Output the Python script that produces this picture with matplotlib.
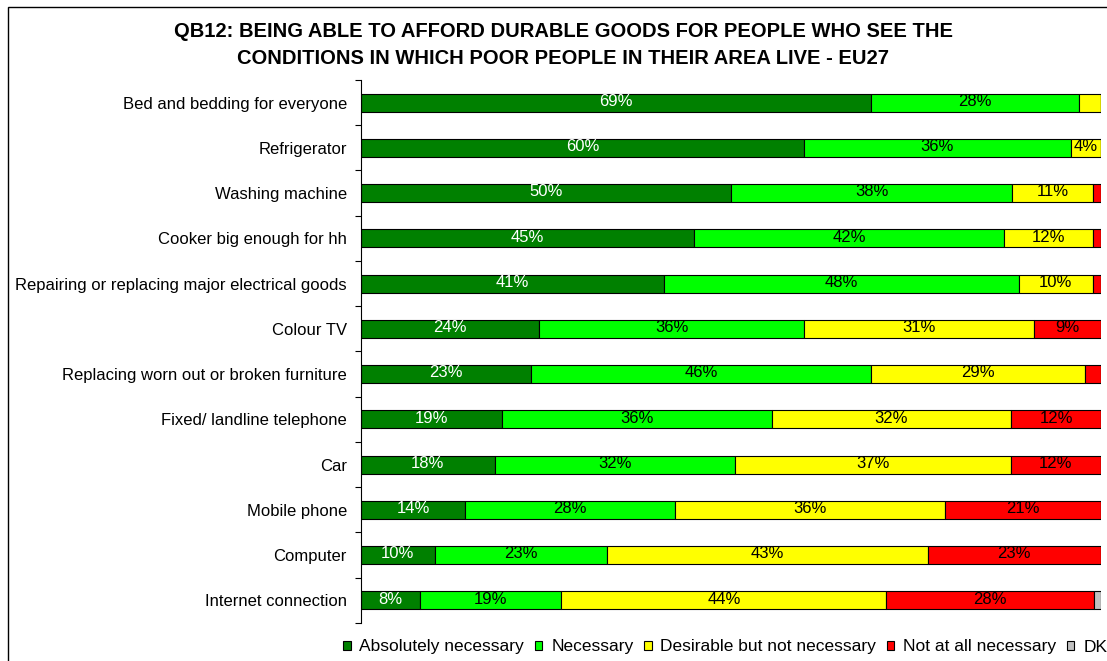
import matplotlib
matplotlib.use('Agg')
import matplotlib.pyplot as plt
from matplotlib.patches import Rectangle

plt.rcParams['font.family'] = ['Liberation Sans', 'DejaVu Sans']

categories = [
    'Bed and bedding for everyone',
    'Refrigerator',
    'Washing machine',
    'Cooker big enough for hh',
    'Repairing or replacing major electrical goods',
    'Colour TV',
    'Replacing worn out or broken furniture',
    'Fixed/ landline telephone',
    'Car',
    'Mobile phone',
    'Computer',
    'Internet connection',
]
absolutely = [68.9, 59.9, 50.0, 45.0, 40.9, 24.1, 23.0, 19.1, 18.1, 14.1, 10.0, 8.0]
necessary = [28.1, 36.0, 38.0, 41.9, 48.0, 35.8, 45.9, 36.4, 32.4, 28.4, 23.2, 19.1]
desirable = [3.0, 4.1, 10.9, 12.0, 10.0, 31.1, 28.9, 32.4, 37.3, 36.4, 43.4, 43.9]
not_at_all = [0.0, 0.0, 1.1, 1.1, 1.1, 9.0, 2.2, 12.1, 12.2, 21.1, 23.4, 28.0]
dk = [0.0, 0.0, 0.0, 0.0, 0.0, 0.0, 0.0, 0.0, 0.0, 0.0, 0.0, 1.0]

series = [
    ('Absolutely necessary', absolutely, '#008000', 'white'),
    ('Necessary', necessary, '#00FF00', 'black'),
    ('Desirable but not necessary', desirable, '#FFFF00', 'black'),
    ('Not at all necessary', not_at_all, '#FF0000', 'black'),
    ('DK', dk, '#C0C0C0', 'black'),
]

fig = plt.figure(figsize=(11.07, 6.61), dpi=100)
ax = fig.add_axes([0.326, 0.0575, 0.6685, 0.8215])

# frame round the chart area
fig.patches.append(Rectangle((8 / 1107, -0.1), 1.2, 1 - 7 / 661 + 0.1,
                             transform=fig.transFigure, fill=False,
                             edgecolor='black', linewidth=1))

y = list(range(len(categories)))
left = [0.0] * len(categories)
for name, values, color, txt_color in series:
    ax.barh(y, values, left=left, height=0.4, color=color,
            edgecolor='black', linewidth=0.8, label=name)
    for i, v in enumerate(values):
        if v >= 3.5:
            ax.text(left[i] + v / 2, i - 0.03, f'{round(v):.0f}%', ha='center',
                    va='center', fontsize=12, color=txt_color)
    left = [l + v for l, v in zip(left, values)]

ax.set_xlim(0, 100)
ax.set_ylim(len(categories) - 0.5, -0.5)
ax.set_yticks(y)
ax.set_yticklabels(categories, fontsize=12)
ax.set_yticks([i + 0.5 for i in range(-1, len(categories))], minor=True)
ax.tick_params(axis='y', which='major', length=0, pad=10)
ax.tick_params(axis='y', which='minor', length=4, width=0.8)
ax.set_xticks([])
for side in ['top', 'right', 'bottom']:
    ax.spines[side].set_visible(False)
ax.spines['left'].set_linewidth(0.8)

fig.text(0.509, 1 - 45 / 661,
         'QB12: BEING ABLE TO AFFORD DURABLE GOODS FOR PEOPLE WHO SEE THE\n'
         'CONDITIONS IN WHICH POOR PEOPLE IN THEIR AREA LIVE - EU27',
         ha='center', va='center', fontsize=14.5, fontweight='bold',
         linespacing=1.5)

fig.legend(loc='center left', bbox_to_anchor=(343 / 1107, 1 - 647 / 661),
           ncol=5, frameon=False, fontsize=12.5, handlelength=0.45,
           handleheight=0.45, handletextpad=0.5, columnspacing=0.6,
           borderaxespad=0, borderpad=0)

fig.savefig('out.png', dpi=100)
